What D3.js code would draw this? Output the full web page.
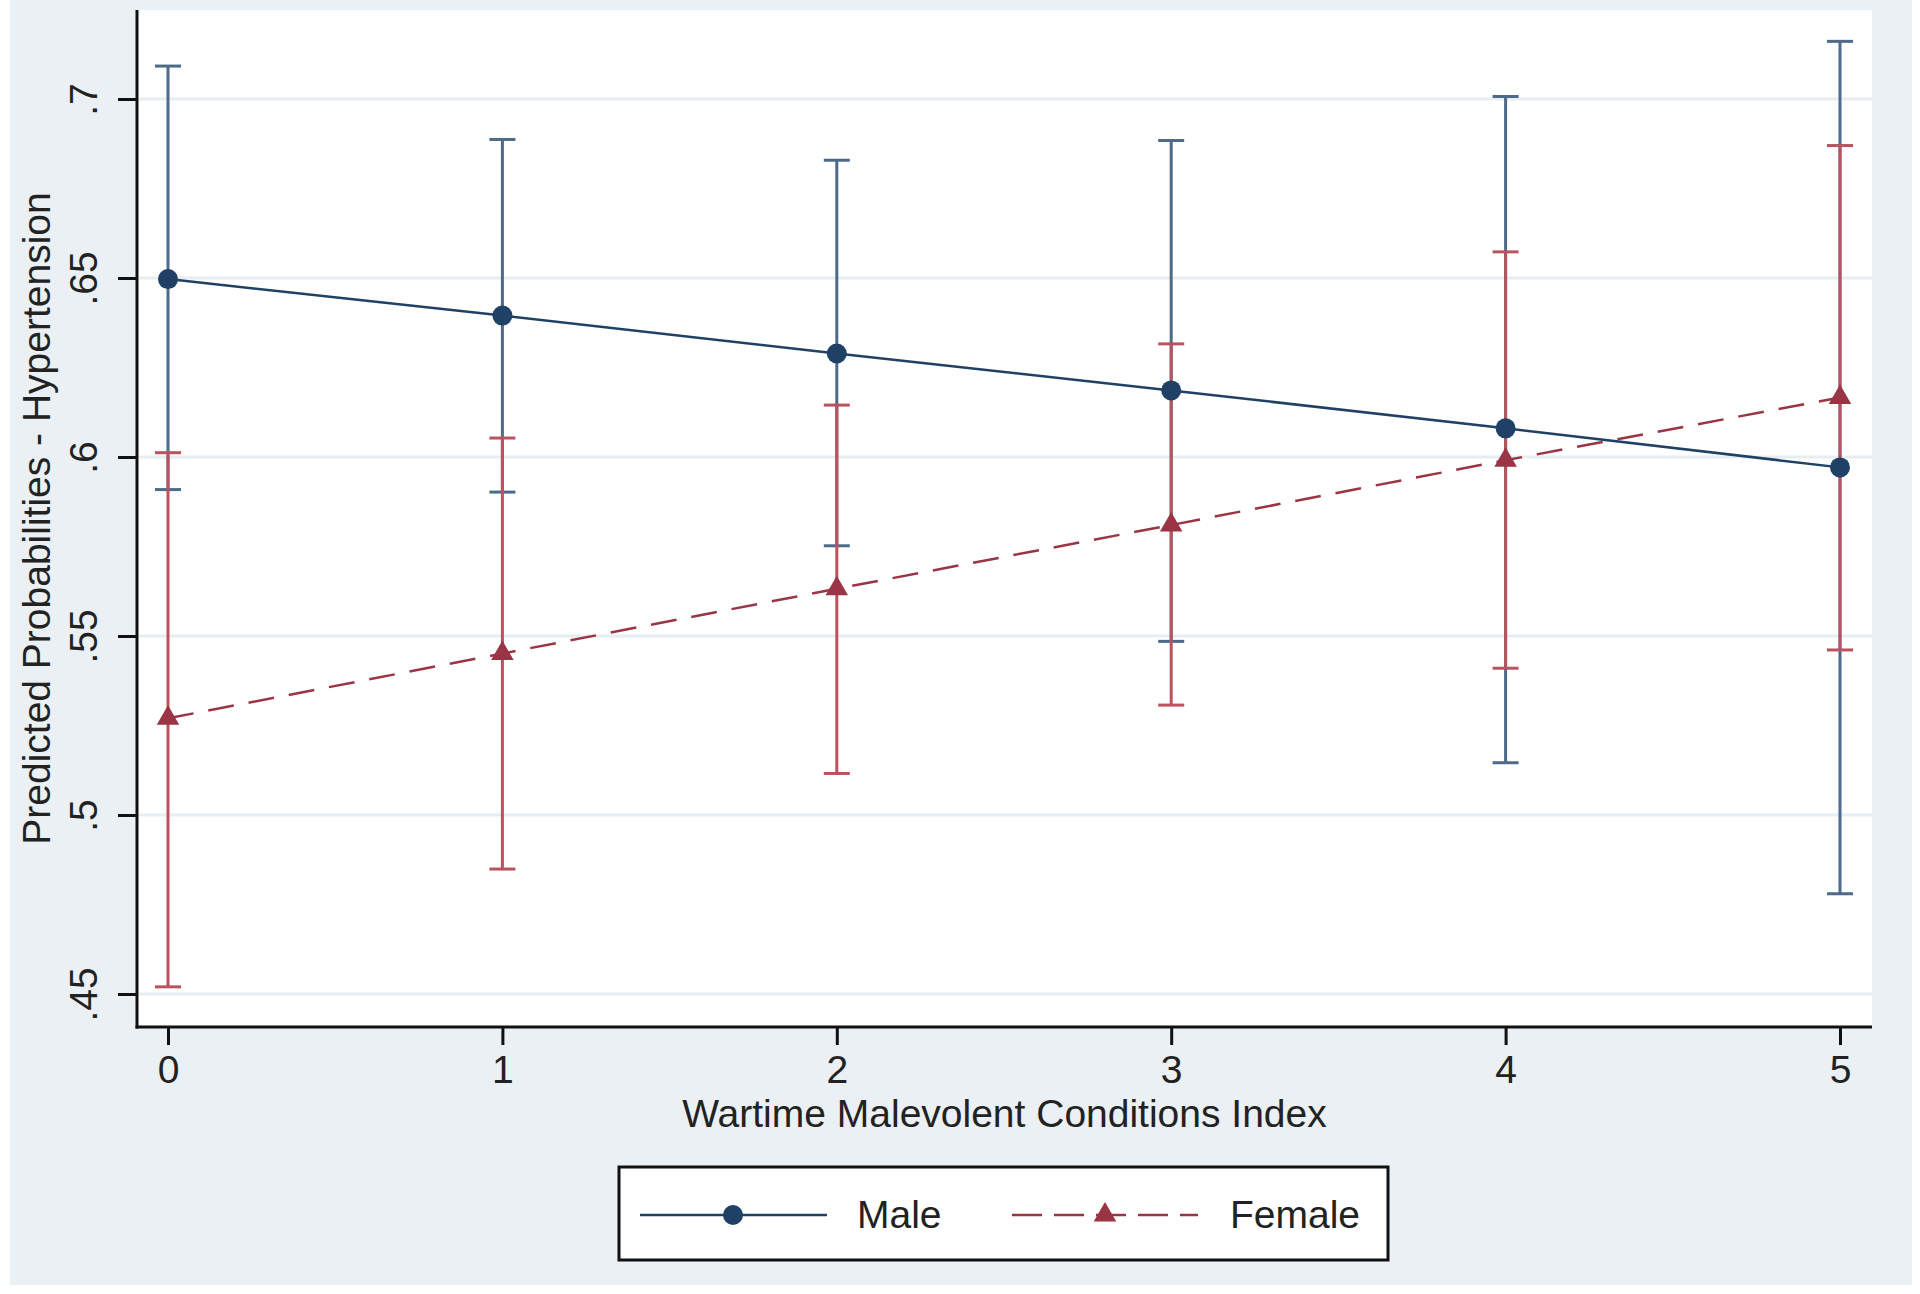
<!DOCTYPE html>
<html>
<head>
<meta charset="utf-8">
<script src="https://cdn.jsdelivr.net/npm/d3@7"></script>
<style>
  html, body { margin: 0; padding: 0; background: #ffffff; }
  svg { display: block; }
  text { font-family: "Liberation Sans", Arial, sans-serif; fill: #222; }
</style>
</head>
<body>
<svg id="chart" width="1920" height="1294"></svg>
<script>
// ---- data ----
const xValues = [0, 1, 2, 3, 4, 5];
const maleMean  = [0.6497, 0.6395, 0.6289, 0.6186, 0.6080, 0.5971];
const maleLow   = [0.5909, 0.5902, 0.5752, 0.5485, 0.5146, 0.4780];
const maleHigh  = [0.7092, 0.6887, 0.6829, 0.6884, 0.7007, 0.7161];
const femaleMean = [0.5270, 0.5451, 0.5632, 0.5810, 0.5991, 0.6166];
const femaleLow  = [0.4520, 0.4849, 0.5116, 0.5307, 0.5410, 0.5461];
const femaleHigh = [0.6012, 0.6053, 0.6145, 0.6316, 0.6573, 0.6870];
const yTicks = [0.45, 0.5, 0.55, 0.6, 0.65, 0.7];
const yTickLabels = [".45", ".5", ".55", ".6", ".65", ".7"];
const xTicks = [0, 1, 2, 3, 4, 5];
const seriesNames = ["Male", "Female"];
const xTitle = "Wartime Malevolent Conditions Index";
const yTitle = "Predicted Probabilities - Hypertension";

// ---- layout ----
const W = 1920, H = 1294;
const plotL = 137, plotR = 1872, plotT = 10, plotB = 1027;
const svg = d3.select("#chart");

const x = d3.scaleLinear().domain([0, 5]).range([168, 1840]);
const y = d3.scaleLinear().domain([0.45, 0.7]).range([994, 99]);

const colMale = "#1f4165", colMaleCI = "#4d6a88";
const colFem = "#9b3545", colFemCI = "#b9535f";

// backgrounds
svg.append("rect").attr("x", 0).attr("y", 0).attr("width", W).attr("height", H).attr("fill", "#ffffff");
svg.append("rect").attr("x", 10).attr("y", 0).attr("width", 1902).attr("height", 1285).attr("fill", "#eaf0f3");
svg.append("rect").attr("x", plotL).attr("y", plotT).attr("width", plotR - plotL).attr("height", plotB - plotT).attr("fill", "#ffffff");

// gridlines
svg.append("g").selectAll("line").data(yTicks).join("line")
  .attr("x1", plotL + 2).attr("x2", plotR)
  .attr("y1", d => y(d)).attr("y2", d => y(d))
  .attr("stroke", "#e7edf0").attr("stroke-width", 3);

// axes
const yAxis = d3.axisLeft(y).tickValues(yTicks).tickSize(19).tickPadding(0)
  .tickFormat((d, i) => yTickLabels[i]);
const gy = svg.append("g").attr("transform", `translate(${plotL},0)`).call(yAxis);
gy.select(".domain").remove();
gy.selectAll(".tick line").attr("stroke", "#111").attr("stroke-width", 3);
gy.selectAll(".tick text")
  .attr("x", null).attr("dy", null)
  .attr("transform", "translate(-40,0) rotate(-90)")
  .attr("text-anchor", "middle")
  .style("font-size", "39px").style("fill", "#222");

const xAxis = d3.axisBottom(x).tickValues(xTicks).tickSize(18).tickPadding(0).tickFormat(d3.format("d"));
const gx = svg.append("g").attr("transform", `translate(0,${plotB})`).call(xAxis);
gx.select(".domain").remove();
gx.selectAll(".tick line").attr("stroke", "#111").attr("stroke-width", 3);
gx.selectAll(".tick text")
  .attr("y", 56).attr("dy", null)
  .attr("text-anchor", "middle")
  .style("font-size", "39px").style("fill", "#222");

svg.append("line").attr("x1", plotL).attr("x2", plotL).attr("y1", plotT).attr("y2", plotB + 1.5)
  .attr("stroke", "#111").attr("stroke-width", 3);
svg.append("line").attr("x1", plotL - 1.5).attr("x2", plotR).attr("y1", plotB).attr("y2", plotB)
  .attr("stroke", "#111").attr("stroke-width", 3);

// axis titles
svg.append("text").attr("x", (plotL + plotR) / 2).attr("y", 1127)
  .attr("text-anchor", "middle").style("font-size", "39px").text(xTitle);
svg.append("text").attr("transform", `translate(50,${(plotT + plotB) / 2}) rotate(-90)`)
  .attr("text-anchor", "middle").style("font-size", "39px").text(yTitle);

// error bars
function drawCI(low, high, color) {
  const g = svg.append("g");
  const cap = 13;
  xValues.forEach((xv, i) => {
    g.append("line").attr("x1", x(xv)).attr("x2", x(xv)).attr("y1", y(low[i])).attr("y2", y(high[i]))
      .attr("stroke", color).attr("stroke-width", 3);
    [low[i], high[i]].forEach(v => {
      g.append("line").attr("x1", x(xv) - cap).attr("x2", x(xv) + cap).attr("y1", y(v)).attr("y2", y(v))
        .attr("stroke", color).attr("stroke-width", 3);
    });
  });
}
drawCI(maleLow, maleHigh, colMaleCI);
drawCI(femaleLow, femaleHigh, colFemCI);

// lines
const line = d3.line().x((d, i) => x(xValues[i])).y(d => y(d));
svg.append("path").datum(maleMean).attr("d", line).attr("fill", "none")
  .attr("stroke", colMale).attr("stroke-width", 2.5);
svg.append("path").datum(femaleMean).attr("d", line).attr("fill", "none")
  .attr("stroke", colFem).attr("stroke-width", 2.5).attr("stroke-dasharray", "26,15");

// markers
const tri = d3.symbol().type(d3.symbolTriangle).size(220);
svg.append("g").selectAll("circle").data(maleMean).join("circle")
  .attr("cx", (d, i) => x(xValues[i])).attr("cy", d => y(d)).attr("r", 10)
  .attr("fill", colMale);
svg.append("g").selectAll("path").data(femaleMean).join("path")
  .attr("d", tri).attr("transform", (d, i) => `translate(${x(xValues[i])},${y(d)})`)
  .attr("fill", colFem);

// legend
const lg = svg.append("g");
lg.append("rect").attr("x", 619).attr("y", 1167).attr("width", 769).attr("height", 93)
  .attr("fill", "#ffffff").attr("stroke", "#111").attr("stroke-width", 3);
const ly = 1215;
lg.append("line").attr("x1", 640).attr("x2", 827).attr("y1", ly).attr("y2", ly)
  .attr("stroke", colMale).attr("stroke-width", 2.5);
lg.append("circle").attr("cx", 733).attr("cy", ly).attr("r", 10).attr("fill", colMale);
lg.append("text").attr("x", 857).attr("y", 1228).style("font-size", "39px").text(seriesNames[0]);
lg.append("line").attr("x1", 1012).attr("x2", 1198).attr("y1", ly).attr("y2", ly)
  .attr("stroke", colFem).attr("stroke-width", 2.5).attr("stroke-dasharray", "30,12");
lg.append("path").attr("d", tri).attr("transform", `translate(1105,${ly})`).attr("fill", colFem);
lg.append("text").attr("x", 1230).attr("y", 1228).style("font-size", "39px").text(seriesNames[1]);
</script>
</body>
</html>
